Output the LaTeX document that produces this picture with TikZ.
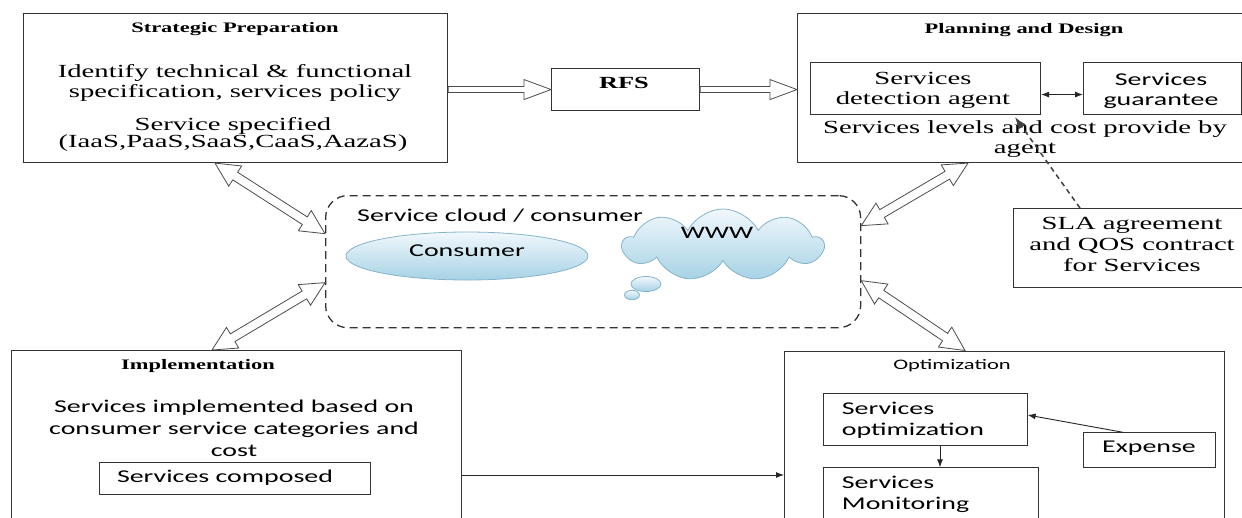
\documentclass[tikz,border=0pt]{standalone}
\usepackage{fontspec}
\usetikzlibrary{calc,shapes.geometric,shapes.symbols,arrows.meta}
\newfontfamily\srf[FakeStretch=1.55]{Liberation Serif}
\newfontfamily\snf[FakeStretch=1.55]{Carlito}
\newcommand\sertitle{\srf\bfseries\fontsize{14.5}{17}\selectfont}
\newcommand\serbody{\srf\fontsize{18.5}{20}\selectfont}
\newcommand\sanstitle{\snf\fontsize{14.5}{17}\selectfont}
\newcommand\sansbody{\snf\fontsize{18}{22}\selectfont}
\definecolor{skytop}{HTML}{F1F8FC}
\definecolor{skybot}{HTML}{A6D2E5}
\definecolor{skyline}{HTML}{86B4C9}
% wide hollow arrow with one head: tail #1, tip #2
\newcommand\hollowsingle[2]{%
  \draw[hollow] ($(#1)!3pt!90:(#2)$) -- ($(#2)!27pt!(#1)!3pt!-90:(#1)$)
    -- ($(#2)!27pt!(#1)!10pt!-90:(#1)$) -- (#2)
    -- ($(#2)!27pt!(#1)!10pt!90:(#1)$) -- ($(#2)!27pt!(#1)!3pt!90:(#1)$)
    -- ($(#1)!3pt!-90:(#2)$) -- cycle;}
% wide hollow arrow with two heads between #1 and #2
\newcommand\hollowdouble[2]{%
  \draw[hollow] (#1) -- ($(#1)!24pt!(#2)!12pt!90:(#2)$) -- ($(#1)!24pt!(#2)!4.5pt!90:(#2)$)
    -- ($(#2)!24pt!(#1)!4.5pt!-90:(#1)$) -- ($(#2)!24pt!(#1)!12pt!-90:(#1)$) -- (#2)
    -- ($(#2)!24pt!(#1)!12pt!90:(#1)$) -- ($(#2)!24pt!(#1)!4.5pt!90:(#1)$)
    -- ($(#1)!24pt!(#2)!4.5pt!-90:(#2)$) -- ($(#1)!24pt!(#2)!12pt!-90:(#2)$) -- cycle;}
\begin{document}
\begin{tikzpicture}[x=1pt,y=1pt,
  box/.style={draw=black!80, line width=1.1pt, inner sep=0pt, anchor=north west},
  hollow/.style={draw=black!70, fill=white, line width=0.8pt, line join=miter},
  link/.style={draw=black!85, line width=0.9pt, -{Latex[length=8pt,width=6pt]}},
  biglink/.style={draw=black!85, line width=0.9pt, {Latex[length=8pt,width=6pt]}-{Latex[length=8pt,width=6pt]}},
  agentlink/.style={draw=black!75, line width=1.5pt, dash pattern=on 5pt off 4pt, -{Latex[length=12pt,width=9pt]}},
  txt/.style={inner sep=0pt, align=center},
  sky/.style={top color=skytop, bottom color=skybot, draw=skyline, line width=0.8pt}
]
\useasboundingbox (0,0) rectangle (1242,-517);
\fill[white] (0,0) rectangle (1242,-517);
\clip (0,0) rectangle (1242,-517);

% Strategic preparation
\node[box, minimum width=424, minimum height=149] (strat) at (23,-13) {};
\node[txt, font=\sertitle, anchor=base] (stratT) at (235,-32.5) {Strategic Preparation};
\node[txt, font=\serbody] (stratA) at (235,-83) {Identify technical \& functional\\specification, services policy};
\node[txt, font=\srf\fontsize{18.5}{16.5}\selectfont] (stratB) at (233,-134.5) {Service specified\\(IaaS,PaaS,SaaS,CaaS,AazaS)};

% RFS
\node[box, minimum width=148, minimum height=42] (rfs) at (551,-68) {};
\node[txt, font=\srf\bfseries\fontsize{17}{20}\selectfont, anchor=base] (rfsT) at (624,-88.3) {RFS};

% Planning and design
\node[box, minimum width=463, minimum height=149] (plan) at (797,-13) {};
\node[txt, font=\sertitle, anchor=base] (planT) at (1024,-33.5) {Planning and Design};
\node[box, minimum width=230, minimum height=52] (det) at (810,-62) {};
\node[txt, font=\serbody] (detT) at (923,-90.5) {Services\\detection agent};
\node[box, minimum width=158, minimum height=52] (gua) at (1083,-62) {};
\node[txt, font=\snf\fontsize{18}{20}\selectfont] (guaT) at (1161,-90.5) {Services\\guarantee};
\node[txt, font=\serbody] (levT) at (1025,-139) {Services levels and cost provide by\\agent};
\draw[biglink] ([yshift=-6]det.east) -- ([yshift=-6]gua.west);

% SLA
\node[box, minimum width=247, minimum height=79] (sla) at (1013,-208) {};
\node[txt, font=\srf\fontsize{18.5}{21}\selectfont] (slaT) at (1132,-244) {SLA agreement\\and QOS contract\\for Services};
\draw[agentlink] ([xshift=67]sla.north west) -- ([xshift=205,yshift=-2]det.south west);

% Service cloud / consumer
\node[draw=black!80, line width=1.3pt, dash pattern=on 8pt off 5pt, rounded corners=22pt,
      minimum width=535, minimum height=132, inner sep=0pt, anchor=north west] (cloudbox) at (325,-195) {};
\node[txt, font=\sansbody, anchor=base west] (cloudT) at (357,-221) {Service cloud / consumer};
\node[ellipse, sky, minimum width=242, minimum height=48] (cons) at (467,-256) {};
\node[txt, font=\sansbody] (consT) at (467,-251) {Consumer};
\node[cloud, sky, cloud puffs=9, cloud puff arc=125, cloud ignores aspect,
      minimum width=200, minimum height=72] (www) at (723,-245) {};
\node[ellipse, sky, minimum width=30, minimum height=15] (puffA) at (646,-284) {};
\node[ellipse, sky, minimum width=15, minimum height=9] (puffB) at (632,-295) {};
\node[txt, font=\snf\fontsize{17.5}{20}\selectfont] (wwwT) at (717,-233) {WWW};

% Implementation
\node[box, minimum width=450, minimum height=200] (impl) at (11,-350) {};
\node[txt, font=\sertitle, anchor=base] (implT) at (198,-369) {Implementation};
\node[txt, font=\sansbody] (implA) at (234,-428) {Services implemented based on\\consumer service categories and\\cost};
\node[box, minimum width=271, minimum height=31.5] (comp) at (99,-462) {};
\node[txt, font=\sansbody, anchor=base] (compT) at (225,-482) {Services composed};

% Optimization
\node[box, minimum width=439.5, minimum height=200] (opt) at (784,-350.5) {};
\node[txt, font=\sanstitle, anchor=base] (optT) at (952,-369) {Optimization};
\node[box, minimum width=203.5, minimum height=51.7] (so) at (823,-393.3) {};
\node[txt, font=\snf\fontsize{18}{21}\selectfont, align=left, anchor=west] (soT) at (841.7,-420.6) {Services\\optimization};
\node[box, minimum width=215, minimum height=80] (sm) at (823,-467.3) {};
\node[txt, font=\snf\fontsize{18}{21}\selectfont, align=left, anchor=west] (smT) at (841.7,-494.8) {Services\\Monitoring};
\node[box, minimum width=132, minimum height=35] (exp) at (1083,-432.3) {};
\node[txt, font=\sansbody, anchor=base] (expT) at (1149,-452.7) {Expense};
\draw[link] ([xshift=40]exp.north west) -- ([yshift=-21.7]so.north east);
\draw[link] ([xshift=117]so.south west) -- ([xshift=117]sm.north west);
\draw[link] ([yshift=-125]impl.north east) -- ([yshift=-124.5]opt.north west);

% wide hollow connectors
\coordinate (sr) at (strat.east |- rfs.west);
\coordinate (rp) at (plan.west |- rfs.west);
\hollowsingle{sr}{rfs.west}
\hollowsingle{rfs.east}{rp}
\coordinate (sp1) at ([xshift=192]strat.south west);
\coordinate (cl1) at ([yshift=28]cloudbox.west);
\coordinate (ip1) at ([xshift=201]impl.north west);
\coordinate (cl2) at ([yshift=-21]cloudbox.west);
\coordinate (pd1) at ([xshift=171]plan.south west);
\coordinate (cr1) at ([yshift=36]cloudbox.east);
\coordinate (op1) at ([xshift=181]opt.north west);
\coordinate (cr2) at ([yshift=-19]cloudbox.east);
\hollowdouble{sp1}{cl1}
\hollowdouble{ip1}{cl2}
\hollowdouble{pd1}{cr1}
\hollowdouble{op1}{cr2}
\end{tikzpicture}
\end{document}
